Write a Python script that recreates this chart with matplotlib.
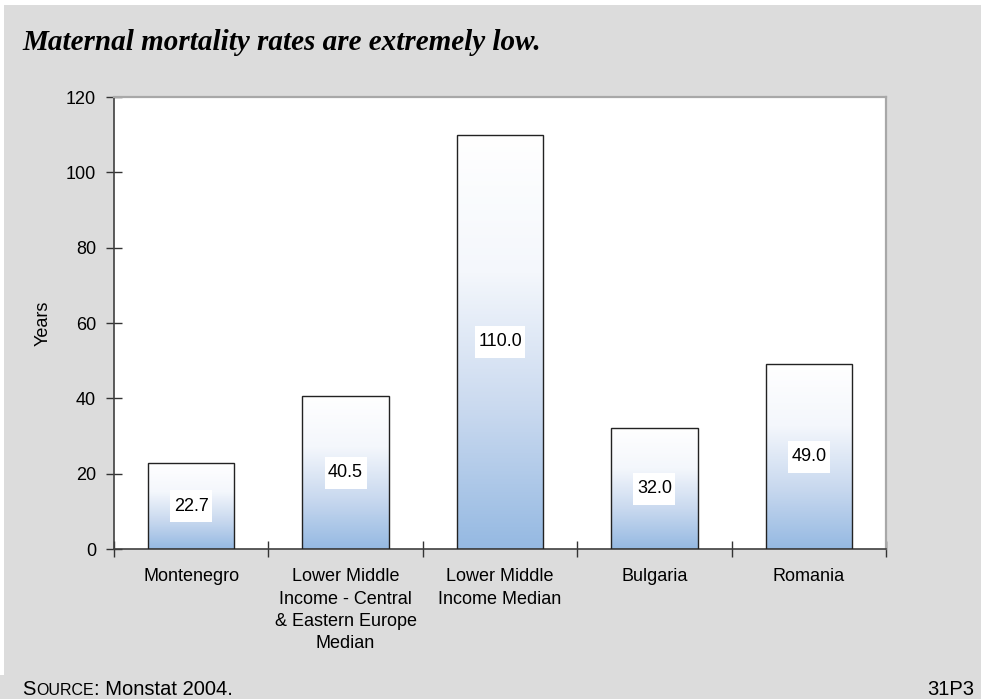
import numpy as np
import matplotlib
matplotlib.use("Agg")
from matplotlib import pyplot as plt
from matplotlib.colors import LinearSegmentedColormap
from matplotlib.patches import Rectangle

categories = ["Montenegro",
              "Lower Middle\nIncome - Central\n& Eastern Europe\nMedian",
              "Lower Middle\nIncome Median",
              "Bulgaria",
              "Romania"]
values = [22.7, 40.5, 110.0, 32.0, 49.0]
y_ticks = [0, 20, 40, 60, 80, 100, 120]

title = "Maternal mortality rates are extremely low."
source_parts = [("S", 14.5), ("OURCE", 11.5), (": Monstat 2004.", 14.5)]
source_note = "31P3"

plt.rcParams['font.family'] = ['Liberation Sans', 'DejaVu Sans']

bg = '#dcdcdc'
W, H = 981, 699
fig = plt.figure(figsize=(W/100, H/100), dpi=100, facecolor=bg)
# white strips along the top and left edges
fig.patches.append(Rectangle((0, 1 - 5/H), 1, 5/H, transform=fig.transFigure,
                             facecolor='white', edgecolor='none', zorder=0))
fig.patches.append(Rectangle((0, 24/H), 4/W, 1, transform=fig.transFigure,
                             facecolor='white', edgecolor='none', zorder=0))

ax = fig.add_axes([114/W, 1 - 549/H, 772/W, 452/H])
ax.set_facecolor('white')

cmap = LinearSegmentedColormap.from_list('bar', ['#ffffff', '#f4f7fc', '#c9d9ef', '#95b9e2'])
grad = np.linspace(0, 1, 256).reshape(-1, 1)
width = 0.56
x = np.arange(len(values))
labels = []
for xi, v in zip(x, values):
    ax.imshow(grad, cmap=cmap, aspect='auto', origin='upper',
              extent=(xi - width/2, xi + width/2, 0, v), zorder=2)
    ax.add_patch(Rectangle((xi - width/2, 0), width, v, facecolor='none',
                           edgecolor='#222222', linewidth=1.0, zorder=3))
    labels.append(ax.text(xi, v/2, f"{v:.1f}", ha='center', va='center',
                          fontsize=13, zorder=5))

ax.set_xlim(-0.5, len(values) - 0.5)
ax.set_ylim(0, 120)
ax.set_yticks(y_ticks)
ax.set_xticks(np.arange(len(values) + 1) - 0.5)
ax.set_xticklabels([])
ax.set_xticks(x, minor=True)
ax.set_xticklabels(categories, minor=True, fontsize=13, linespacing=1.4)
ax.tick_params(axis='x', which='minor', length=0, pad=14)
ax.tick_params(axis='x', which='major', direction='inout', length=12, width=1, color='#333333')
ax.tick_params(axis='y', direction='inout', length=12, width=1, color='#333333',
               labelsize=13, pad=7)
for side in ['left', 'bottom']:
    ax.spines[side].set_color('#404040')
    ax.spines[side].set_linewidth(1.2)
for side in ['top', 'right']:
    ax.spines[side].set_color('#a8a8a8')
    ax.spines[side].set_linewidth(1.6)
ax.set_ylabel("Years", fontsize=13, labelpad=10)

fig.text(22/W, 1 - 43/H, title, fontsize=21, family='Liberation Serif',
         weight='bold', style='italic', va='center', ha='left')
fig.text(974/W, 1 - 688/H, source_note, fontsize=14.5, va='baseline', ha='right',
         transform=fig.transFigure).set_y(1 - 695/H)

fig.canvas.draw()
r = fig.canvas.get_renderer()

# small-caps source line, laid out piece by piece
xpos = 22
for txt, size in source_parts:
    t = fig.text(xpos/W, 1 - 695/H, txt, fontsize=size, va='baseline', ha='left')
    xpos += t.get_window_extent(r).width + 0.5

# white boxes behind the value labels, sized from the rendered text
inv = ax.transData.inverted()
for t in labels:
    bb = t.get_window_extent(r)
    cx, cy = (bb.x0 + bb.x1) / 2, (bb.y0 + bb.y1) / 2
    w, h = bb.width + 7, 32
    (x0, y0), (x1, y1) = inv.transform([(cx - w/2, cy - h/2), (cx + w/2, cy + h/2)])
    ax.add_patch(Rectangle((x0, y0), x1 - x0, y1 - y0, facecolor='white',
                           edgecolor='none', zorder=4))

fig.savefig("out.png", dpi=100, facecolor=bg)
